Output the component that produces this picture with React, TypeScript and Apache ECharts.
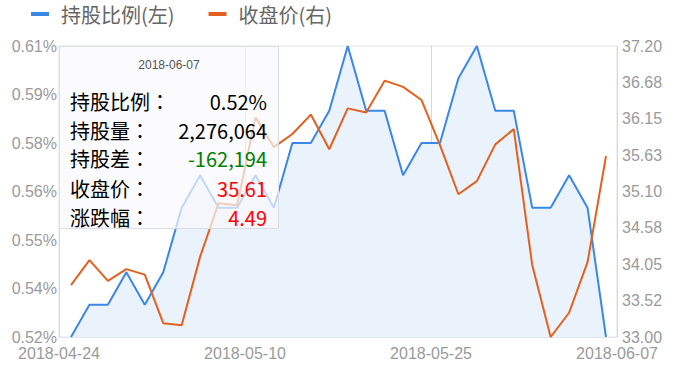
import React, { useEffect, useRef } from "react";
import * as echarts from "echarts";

// Trading days (HK Buddha's Birthday 2018-05-22 has no holding record)
const dates = [
  "2018-04-24", "2018-04-25", "2018-04-26", "2018-04-27", "2018-05-02",
  "2018-05-03", "2018-05-04", "2018-05-07", "2018-05-08", "2018-05-09",
  "2018-05-10", "2018-05-11", "2018-05-14", "2018-05-15", "2018-05-16",
  "2018-05-17", "2018-05-18", "2018-05-21", "2018-05-23", "2018-05-24",
  "2018-05-25", "2018-05-28", "2018-05-29", "2018-05-30", "2018-05-31",
  "2018-06-01", "2018-06-04", "2018-06-05", "2018-06-06", "2018-06-07",
];

// 持股比例 (%)
const holdRatio = [
  0.52, 0.53, 0.53, 0.54, 0.53, 0.54, 0.56, 0.57, 0.56, 0.56,
  0.57, 0.56, 0.58, 0.58, 0.59, 0.61, 0.59, 0.59, 0.57, 0.58,
  0.58, 0.6, 0.61, 0.59, 0.59, 0.56, 0.56, 0.57, 0.56, 0.52,
];

// 收盘价
const closePrice = [
  33.75, 34.11, 33.81, 33.98, 33.9, 33.2, 33.17, 34.16, 34.93, 34.9,
  36.17, 35.74, 35.93, 36.21, 35.71, 36.3, 36.24, 36.7, 36.61, 36.42,
  35.77, 35.06, 35.25, 35.78, 36.0, 34.04, 33.0, 33.35, 34.08, 35.61,
];

// Details of the latest day shown in the info box
const lastHoldShares = 2276064;
const lastHoldDiff = -162194;
const lastChangePct = 4.49;

const xTickLabels = ["2018-04-24", "2018-05-10", "2018-05-25", "2018-06-07"];
const ratioTickLabels = ["0.52%", "0.54%", "0.55%", "0.56%", "0.58%", "0.59%", "0.61%"];
const priceTickLabels = ["33.00", "33.52", "34.05", "34.58", "35.10", "35.63", "36.15", "36.68", "37.20"];

const RATIO_MIN = 0.52;
const RATIO_MAX = 0.61;
const PRICE_MIN = 33.0;
const PRICE_MAX = 37.2;

const BLUE = "#3b87e6";
const ORANGE = "#e2611f";
const LABEL_GRAY = "#9a9a9a";
const FRAME = "#e2e5eb";
const CJK = '"Noto Sans CJK SC", "Liberation Sans", sans-serif';
const CJK_TC = '"Noto Sans CJK TC", "Noto Sans CJK SC", sans-serif';

const fmtInt = (n: number) => n.toLocaleString("en-US");

export default function App() {
  const ref = useRef<HTMLDivElement>(null);

  useEffect(() => {
    if (!ref.current) return;
    const chart = echarts.init(ref.current, null, { renderer: "svg" });

    const last = dates.length - 1;
    const box = { x: 59.5, y: 46.5, w: 219, h: 182 };
    const rowY = [101, 130, 158.5, 188, 217.5];
    const labelSize = 20;
    const rows = [
      { label: "持股比例", value: holdRatio[last].toFixed(2) + "%", color: "#000" },
      { label: "持股量", value: fmtInt(lastHoldShares), color: "#000" },
      { label: "持股差", value: fmtInt(lastHoldDiff), color: "#008000" },
      { label: "收盘价", value: closePrice[last].toFixed(2), color: "#ff0000" },
      { label: "涨跌幅", value: lastChangePct.toFixed(2), color: "#ff0000" },
    ];

    const infoElements: any[] = [
      {
        type: "rect",
        z: 100,
        shape: { x: box.x, y: box.y, width: box.w, height: box.h },
        style: { fill: "rgba(249,250,252,0.7)", stroke: "#d9dee6", lineWidth: 1 },
      },
      {
        type: "text",
        z: 101,
        x: box.x + box.w / 2,
        y: 65,
        style: {
          text: dates[last],
          font: '12px "Liberation Sans", sans-serif',
          fill: "#555",
          align: "center",
          verticalAlign: "middle",
        },
      },
    ];
    rows.forEach((r, i) => {
      infoElements.push({
        type: "text",
        z: 101,
        x: 70,
        y: rowY[i],
        style: { text: r.label, font: labelSize + "px " + CJK, fill: "#000", align: "left", verticalAlign: "middle" },
      });
      infoElements.push({
        type: "text",
        z: 101,
        x: 70 + r.label.length * labelSize + labelSize / 2,
        y: rowY[i],
        style: { text: "：", font: labelSize + "px " + CJK_TC, fill: "#000", align: "center", verticalAlign: "middle" },
      });
      infoElements.push({
        type: "text",
        z: 101,
        x: 267,
        y: rowY[i],
        style: { text: r.value, font: "20px " + CJK, fill: r.color, align: "right", verticalAlign: "middle" },
      });
    });

    chart.setOption({
      animation: false,
      textStyle: { fontFamily: '"Liberation Sans", "Noto Sans CJK SC", sans-serif' },
      legend: {
        left: 31,
        top: 4,
        padding: 0,
        itemGap: 34,
        itemWidth: 18,
        itemHeight: 4,
        icon: "rect",
        textStyle: { fontSize: 20, color: "#666", fontFamily: CJK, padding: [0, 0, 0, 7] },
        data: ["持股比例(左)", "收盘价(右)"],
      },
      grid: [
        { left: 71, right: 68, top: 46, bottom: 42 },
        { left: 59, right: 57, top: 46, bottom: 42, show: true, borderColor: FRAME, borderWidth: 1, backgroundColor: "transparent" },
      ],
      xAxis: [
        { type: "category", gridIndex: 0, data: dates, boundaryGap: false, show: false },
        {
          type: "category",
          gridIndex: 1,
          data: xTickLabels,
          boundaryGap: false,
          axisLine: { show: true, lineStyle: { color: FRAME } },
          axisTick: { show: false },
          splitLine: { show: true, lineStyle: { color: "#cfd8e4" } },
          axisLabel: { interval: 0, color: LABEL_GRAY, fontSize: 16, margin: 8 },
        },
      ],
      yAxis: [
        { type: "value", gridIndex: 0, min: RATIO_MIN, max: RATIO_MAX, show: false },
        { type: "value", gridIndex: 0, min: PRICE_MIN, max: PRICE_MAX, show: false },
        {
          type: "category",
          gridIndex: 1,
          position: "left",
          data: ratioTickLabels,
          boundaryGap: false,
          axisLine: { show: false },
          axisTick: { show: false },
          splitLine: { show: false },
          axisLabel: { interval: 0, color: LABEL_GRAY, fontSize: 16, margin: 2 },
        },
        {
          type: "category",
          gridIndex: 1,
          position: "right",
          data: priceTickLabels,
          boundaryGap: false,
          axisLine: { show: false },
          axisTick: { show: false },
          splitLine: { show: false },
          axisLabel: { interval: 0, color: LABEL_GRAY, fontSize: 16, margin: 5 },
        },
      ],
      series: [
        {
          name: "持股比例(左)",
          type: "line",
          xAxisIndex: 0,
          yAxisIndex: 0,
          data: holdRatio,
          symbol: "none",
          color: BLUE,
          lineStyle: { width: 2, color: BLUE },
          areaStyle: { color: "#eaf2fc", opacity: 1 },
          z: 2,
        },
        {
          name: "收盘价(右)",
          type: "line",
          xAxisIndex: 0,
          yAxisIndex: 1,
          data: closePrice,
          symbol: "none",
          color: ORANGE,
          lineStyle: { width: 2, color: ORANGE },
          z: 3,
        },
      ],
      graphic: [{ type: "group", z: 100, children: infoElements }],
    });

    return () => chart.dispose();
  }, []);

  return <div ref={ref} style={{ width: 674, height: 379, position: "absolute", left: 0, top: 0 }} />;
}
